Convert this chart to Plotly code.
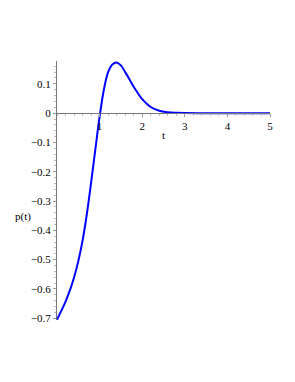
import plotly.graph_objects as go

t_vals = [0, 0.1, 0.2, 0.3, 0.4, 0.5, 0.6, 0.7, 0.8, 0.9, 1.0, 1.1, 1.2, 1.3, 1.4,
          1.5, 1.6, 1.7, 1.8, 1.9, 2.0, 2.2, 2.4, 2.6, 2.8, 3.0, 3.5, 4.0, 4.5, 5.0]
p_vals = [-0.705, -0.675, -0.643, -0.606, -0.561, -0.505, -0.435, -0.345, -0.238, -0.124,
          -0.012, 0.080, 0.140, 0.166, 0.173, 0.163, 0.140, 0.116, 0.090, 0.068,
          0.048, 0.021, 0.008, 0.003, 0.0012, 0.0004, 0.0, 0.0, 0.0, 0.0]

x_ticks = [1, 2, 3, 4, 5]
y_ticks = [0.1, 0, -0.1, -0.2, -0.3, -0.4, -0.5, -0.6, -0.7]

y_min, y_max = -0.706, 0.178
zero_pos = (0 - y_min) / (y_max - y_min)

# target geometry (page pixels, page has 8px body margin)
L, T = 57 - 8, 61 - 8
PW, PH = 213, 259
W, H = 295, 382
R, B = W - L - PW, H - T - PH

fig = go.Figure()
fig.add_trace(go.Scatter(x=t_vals, y=p_vals, mode="lines",
                         line=dict(color="#0000ff", width=2, shape="spline", smoothing=1.0),
                         hoverinfo="skip"))

font = dict(family="Times New Roman, Liberation Serif, serif", size=11, color="black")

def px_x(px):
    return (px - 8 - L) / PW

def px_y(py):
    return 1 - (py - 8 - T) / PH

fig.update_layout(
    width=W, height=H,
    margin=dict(l=L, r=R, t=T, b=B),
    paper_bgcolor="white", plot_bgcolor="white",
    showlegend=False,
    font=font,
    xaxis=dict(range=[0, 5], tickvals=x_ticks, ticktext=[str(v) for v in x_ticks],
               showgrid=False, zeroline=False, showline=True, linecolor="#777777",
               linewidth=1.2, ticks="outside", ticklen=3, tickcolor="#999999",
               anchor="free", position=zero_pos, tickfont=font, automargin=False,
               minor=dict(ticks="outside", ticklen=2, dtick=0.2, tickcolor="#bbbbbb")),
    yaxis=dict(range=[y_min, y_max], tickvals=y_ticks,
               ticktext=[("\u2212" if v < 0 else "") + (f"{abs(v):g}") for v in y_ticks],
               showgrid=False, zeroline=False, showline=True, linecolor="#777777",
               linewidth=1.2, ticks="outside", ticklen=3, tickcolor="#999999",
               tickfont=font, automargin=False,
               minor=dict(ticks="outside", ticklen=2, dtick=0.02, tickcolor="#bbbbbb")),
    annotations=[
        dict(text="t", x=px_x(163), y=px_y(135), xref="paper", yref="paper",
             xanchor="center", yanchor="middle", showarrow=False, font=font),
        dict(text="p(t)", x=px_x(22.5), y=px_y(216), xref="paper", yref="paper",
             xanchor="center", yanchor="middle", showarrow=False, font=font),
    ],
)
fig.write_html("out.html")
